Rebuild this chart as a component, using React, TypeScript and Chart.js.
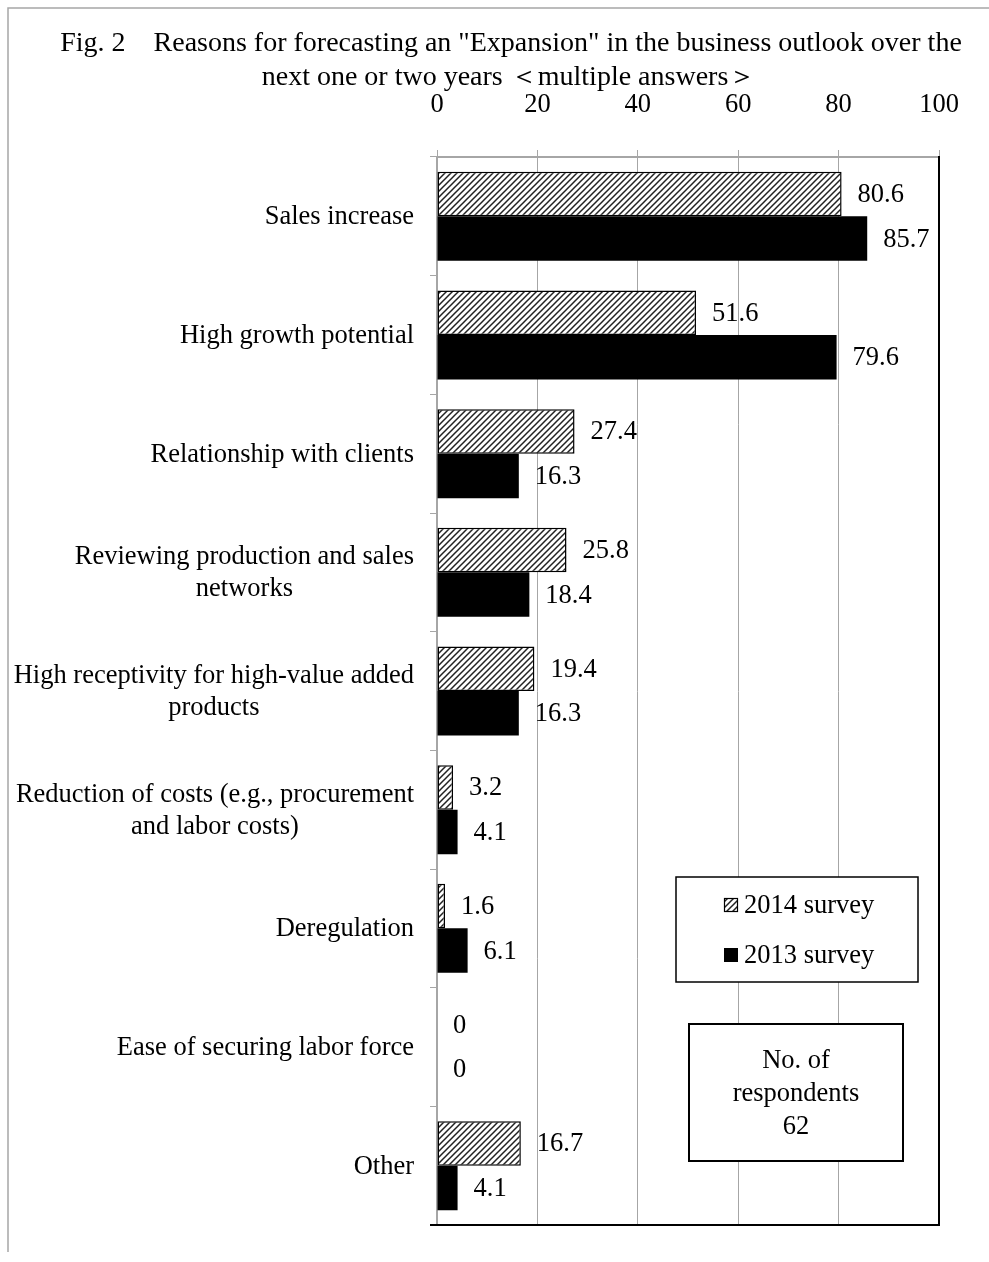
import React, { useEffect, useRef } from "react";
import { Chart, registerables } from "chart.js";

Chart.register(...registerables);

const categories: string[][] = [
  ["Sales increase"],
  ["High growth potential"],
  ["Relationship with clients"],
  ["Reviewing production and sales", "networks"],
  ["High receptivity for high-value added", "products"],
  ["Reduction of costs (e.g., procurement", "and labor costs)"],
  ["Deregulation"],
  ["Ease of securing labor force"],
  ["Other"],
];
const survey2014: number[] = [80.6, 51.6, 27.4, 25.8, 19.4, 3.2, 1.6, 0, 16.7];
const survey2013: number[] = [85.7, 79.6, 16.3, 18.4, 16.3, 4.1, 6.1, 0, 4.1];
const seriesLabels: string[] = ["2014 survey", "2013 survey"];
const xTickValues: number[] = [0, 20, 40, 60, 80, 100];
const titleLines: string[] = [
  'Fig. 2\u3000Reasons for forecasting an "Expansion" in the business outlook over the',
  "next one or two years \uFF1Cmultiple answers\uFF1E",
];
const noteLines: string[] = ["No. of", "respondents", "62"];

const FONT = '"Liberation Serif", "Times New Roman", serif';
const GRID = "#a6a6a6";
const FS = 26.5;

function makeHatch(): CanvasPattern | string {
  const s = 6;
  const c = document.createElement("canvas");
  c.width = s;
  c.height = s;
  const g = c.getContext("2d");
  if (!g) return "#888";
  g.fillStyle = "#fff";
  g.fillRect(0, 0, s, s);
  g.strokeStyle = "#222";
  g.lineWidth = 1.5;
  g.beginPath();
  g.moveTo(0, s);
  g.lineTo(s, 0);
  g.moveTo(-s / 2, s / 2);
  g.lineTo(s / 2, -s / 2);
  g.moveTo(s / 2, s + s / 2);
  g.lineTo(s + s / 2, s / 2);
  g.stroke();
  const p = g.createPattern(c, "repeat");
  return p || "#888";
}

const decorPlugin = {
  id: "decor",
  afterDatasetsDraw(chart: any) {
    const ctx: CanvasRenderingContext2D = chart.ctx;
    ctx.save();
    ctx.font = `${FS}px ${FONT}`;
    ctx.fillStyle = "#000";
    ctx.textAlign = "left";
    ctx.textBaseline = "middle";
    chart.data.datasets.forEach((ds: any, di: number) => {
      const meta = chart.getDatasetMeta(di);
      meta.data.forEach((bar: any, i: number) => {
        const v = ds.data[i];
        ctx.fillText(String(v), bar.x + 16, bar.y + 1);
      });
    });
    ctx.restore();
  },
  afterDraw(chart: any) {
    const ctx: CanvasRenderingContext2D = chart.ctx;
    const a = chart.chartArea;
    const yScale = chart.scales.y;
    ctx.save();
    // outer frame
    ctx.strokeStyle = GRID;
    ctx.lineWidth = 1.5;
    ctx.beginPath();
    ctx.moveTo(8, 1252);
    ctx.lineTo(8, 8);
    ctx.lineTo(989, 8);
    ctx.stroke();
    // right and bottom plot border
    ctx.strokeStyle = "#000";
    ctx.lineWidth = 2;
    ctx.beginPath();
    ctx.moveTo(a.left - 7, a.bottom);
    ctx.lineTo(a.right, a.bottom);
    ctx.lineTo(a.right, a.top - 1);
    ctx.stroke();

    // title
    ctx.fillStyle = "#000";
    ctx.textAlign = "center";
    ctx.textBaseline = "middle";
    ctx.font = `28px ${FONT}`;
    ctx.fillText(titleLines[0], 511, 44);
    ctx.fillText(titleLines[1], 509, 78);

    // category labels
    ctx.font = `${FS}px ${FONT}`;
    const rightEdge = a.left - 23;
    categories.forEach((lines, i) => {
      const cy = yScale.getPixelForValue(i);
      const maxW = Math.max(...lines.map((l) => ctx.measureText(l).width));
      const cx = rightEdge - maxW / 2;
      const lh = 32;
      const y0 = cy - ((lines.length - 1) * lh) / 2;
      lines.forEach((l, k) => ctx.fillText(l, cx, y0 + k * lh + 1));
    });

    // legend box
    const lx = a.right - 263;
    const ly = 877;
    const lw = 242;
    const lhh = 105;
    ctx.fillStyle = "#fff";
    ctx.fillRect(lx, ly, lw, lhh);
    ctx.strokeStyle = "#000";
    ctx.lineWidth = 1.5;
    ctx.strokeRect(lx, ly, lw, lhh);
    const entries = chart.data.datasets;
    entries.forEach((ds: any, k: number) => {
      const ey = ly + 28 + k * 50;
      const mx = lx + 48;
      ctx.fillStyle = ds.backgroundColor;
      ctx.fillRect(mx, ey - 7, 14, 14);
      if (ds.borderWidth) {
        ctx.strokeStyle = "#000";
        ctx.lineWidth = 1.2;
        ctx.strokeRect(mx + 0.5, ey - 6.5, 13, 13);
      }
      ctx.fillStyle = "#000";
      ctx.textAlign = "left";
      ctx.fillText(ds.label, mx + 20, ey + 1);
    });

    // respondents box
    const bx = a.right - 250;
    const by = 1024;
    const bw = 214;
    const bh = 137;
    ctx.fillStyle = "#fff";
    ctx.fillRect(bx, by, bw, bh);
    ctx.strokeStyle = "#000";
    ctx.lineWidth = 2;
    ctx.strokeRect(bx, by, bw, bh);
    ctx.fillStyle = "#000";
    ctx.textAlign = "center";
    noteLines.forEach((l, k) => ctx.fillText(l, bx + bw / 2, by + 37 + k * 33));
    ctx.restore();
  },
};

export default function App() {
  const ref = useRef<HTMLCanvasElement | null>(null);
  useEffect(() => {
    if (!ref.current) return;
    const hatch = makeHatch();
    const chart = new Chart(ref.current, {
      type: "bar",
      data: {
        labels: categories,
        datasets: [
          {
            label: seriesLabels[0],
            data: survey2014,
            backgroundColor: hatch as any,
            borderColor: "#000",
            borderWidth: 1.5,
            borderSkipped: false,
            categoryPercentage: 0.75,
            barPercentage: 1,
          },
          {
            label: seriesLabels[1],
            data: survey2013,
            backgroundColor: "#000",
            borderWidth: 0,
            categoryPercentage: 0.75,
            barPercentage: 1,
          },
        ],
      },
      options: {
        indexAxis: "y",
        responsive: false,
        animation: false,
        devicePixelRatio: 1,
        layout: { padding: { left: 0, right: 50, top: 0, bottom: 37 } },
        plugins: {
          legend: { display: false },
          tooltip: { enabled: false },
          title: { display: false },
        },
        scales: {
          x: {
            position: "top",
            min: 0,
            max: 100,
            afterBuildTicks: (s: any) => {
              s.ticks = xTickValues.map((v) => ({ value: v }));
            },
            afterFit: (s: any) => {
              s.height = 157;
            },
            ticks: {
              color: "#000",
              font: { family: FONT, size: FS },
              padding: 29,
              maxRotation: 0,
            },
            grid: { color: GRID, lineWidth: 1, tickLength: 7 },
            border: { color: GRID, width: 2 },
          },
          y: {
            type: "category",
            afterFit: (s: any) => {
              s.width = 437;
            },
            ticks: { color: "rgba(0,0,0,0)", font: { family: FONT, size: FS } },
            grid: {
              drawOnChartArea: false,
              color: GRID,
              tickLength: 7,
              offset: true,
            },
            border: { color: GRID, width: 2 },
          },
        },
      },
      plugins: [decorPlugin],
    } as any);
    return () => chart.destroy();
  }, []);
  return (
    <canvas
      ref={ref}
      width={989}
      height={1262}
      style={{ position: "absolute", left: 0, top: 0, display: "block" }}
    />
  );
}
